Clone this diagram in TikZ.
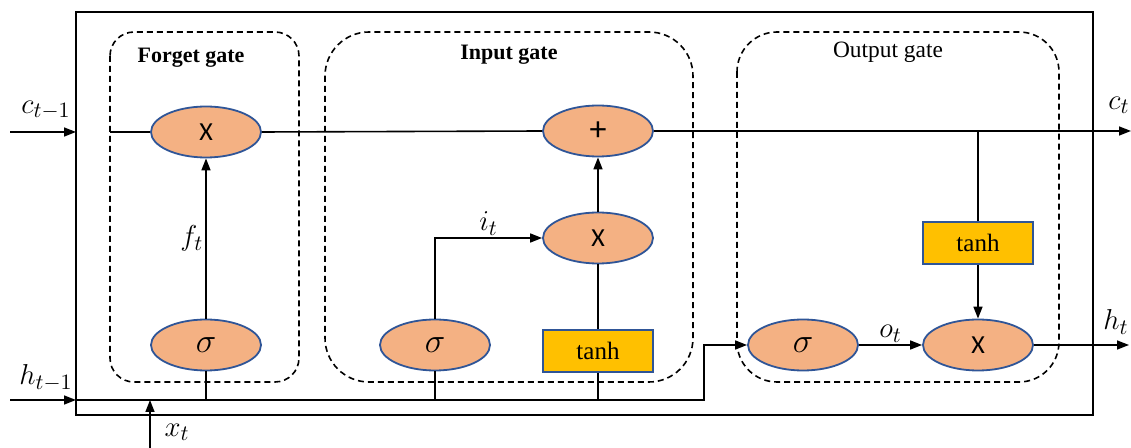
\documentclass[tikz,border=0pt]{standalone}
\usepackage{fontspec}
\setmainfont{Liberation Serif}
\newfontfamily\opfont{Carlito}
\usetikzlibrary{shapes.geometric,arrows.meta}
\definecolor{opfill}{HTML}{F4B183}
\definecolor{opedge}{HTML}{2F5597}
\definecolor{actfill}{HTML}{FFC000}
\begin{document}
\begin{tikzpicture}[x=0.5pt,y=-0.5pt,
  line width=0.8pt,
  arr/.style={-{Triangle[length=6pt,width=4.5pt]}},
  op/.style={ellipse,draw=opedge,line width=0.9pt,fill=opfill,minimum width=55pt,minimum height=25.5pt,inner sep=0pt,font=\opfont\fontsize{13}{15}\selectfont},
  sig/.style={op,font=\fontsize{16}{18}\selectfont},
  act/.style={rectangle,draw=opedge,line width=0.9pt,fill=actfill,minimum width=55pt,minimum height=21pt,inner sep=0pt,font=\fontsize{12.5}{14}\selectfont},
  gatebox/.style={draw,dashed,dash pattern=on 3pt off 2pt,line width=0.8pt},
  lbl/.style={font=\fontsize{15}{17}\selectfont,inner sep=1pt},
  title/.style={font=\fontsize{11}{13}\selectfont,inner sep=0pt}]
\useasboundingbox (0,0) rectangle (1131,448);

% cell frame
\draw[line width=1.1pt] (76,12) rectangle (1093,415);

% gate regions
\draw[gatebox,rounded corners=12pt] (110,32) rectangle (299,382);
\draw[gatebox,rounded corners=22pt] (325,32) rectangle (693,382);
\draw[gatebox,rounded corners=20pt] (737,32) rectangle (1059,382);
\node[title] (tf) at (191,58) {\bfseries Forget gate};
\node[title] (ti) at (509,55) {\bfseries Input gate};
\node[title,font=\fontsize{11.7}{13}\selectfont] (to) at (888,52) {Output gate};

% operations
\node[op]  (fx)   at (206,132) {X};
\node[sig] (fsig) at (206,345) {$\sigma$};
\node[op,font=\opfont\fontsize{17}{19}\selectfont] (plus) at (598,131) {+};
\node[op]  (ix)   at (598,238) {X};
\node[sig] (isig) at (435,345) {$\sigma$};
\node[act] (itanh) at (598,351) {tanh};
\node[sig] (osig) at (803,345) {$\sigma$};
\node[op]  (ox)   at (978,345) {X};
\node[act] (otanh) at (978,243) {tanh};

% end points of the external signals
\coordinate (cin)  at (10,132);
\coordinate (cfr)  at (76,132);
\coordinate (cst)  at (110,132);
\coordinate (cout) at (1131,131);
\coordinate (hin)  at (10,400);
\coordinate (hfr)  at (76,400);
\coordinate (hbend) at (704,400);
\coordinate (hout) at (1129,345);
\coordinate (xin)  at (150,448);
\coordinate (xbus) at (150,400);
\coordinate (ctap) at (978,131);

% cell state path
\draw[arr] (cin) -- (cfr);
\draw (cst) -- (fx.west);
\draw (fx.east) -- (plus.west);
\draw[arr] (plus.east) -- (cout);
\draw (ctap) -- (otanh.north);
\draw[arr] (otanh.south) -- (ox.north);

% hidden state / input bus
\draw[arr] (hin) -- (hfr);
\draw[arr] (hfr) -- (hbend) |- (osig.west);
\draw[arr] (xin) -- (xbus);
\draw (fsig.south) -- (fsig.south |- hfr);
\draw (isig.south) -- (isig.south |- hfr);
\draw (itanh.south) -- (itanh.south |- hfr);

% gate signals
\draw[arr] (fsig.north) -- node[lbl,left] {$f_t$} (fx.south);
\draw[arr] (isig.north) |- node[lbl,above,pos=0.75] {$i_t$} (ix.west);
\draw (itanh.north) -- (ix.south);
\draw[arr] (ix.north) -- (plus.south);
\draw[arr] (osig.east) -- node[lbl,above] {$o_t$} (ox.west);
\draw[arr] (ox.east) -- (hout);

% signal labels
\node[lbl] (lc0) at (46,110) {$c_{t-1}$};
\node[lbl] (lh0) at (46,378) {$h_{t-1}$};
\node[lbl] (lx)  at (177,432) {$x_t$};
\node[lbl] (lc1) at (1119,105) {$c_t$};
\node[lbl] (lh1) at (1116,322) {$h_t$};
\end{tikzpicture}
\end{document}
